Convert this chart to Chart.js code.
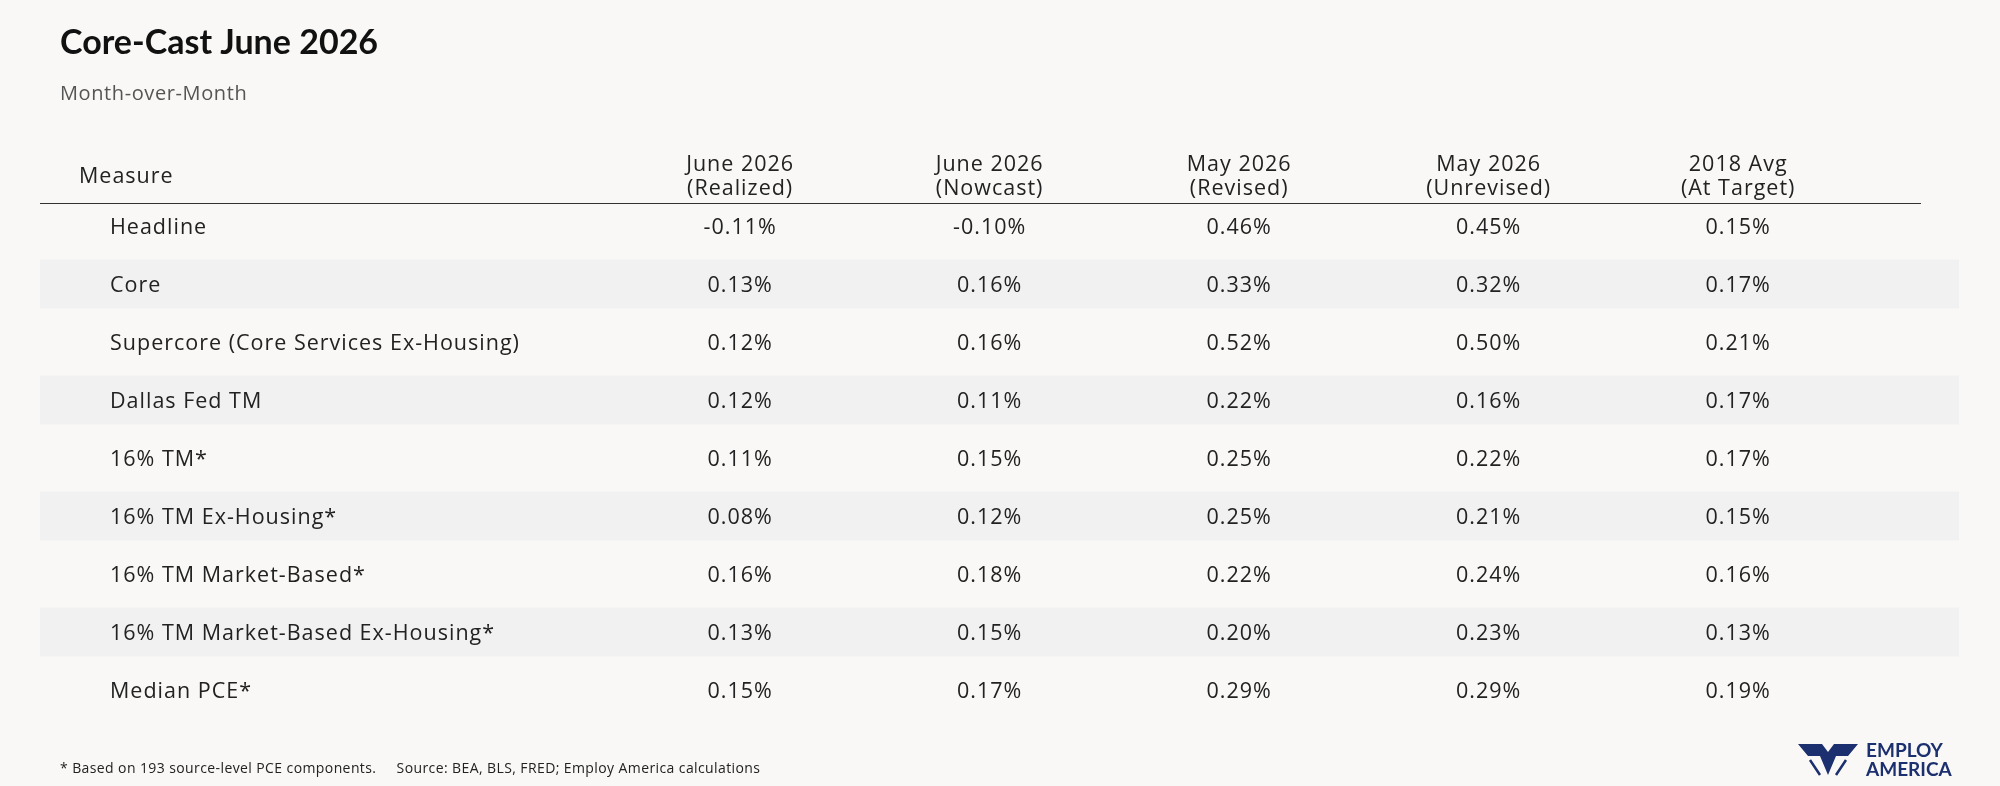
<!DOCTYPE html>
<html><head><meta charset="utf-8">
<script src="https://cdn.jsdelivr.net/npm/chart.js@4"></script>
<style>html,body{margin:0;padding:0;background:#f9f8f6}#c{display:block}</style>
</head><body>
<div style="width:2000px;height:786px"><canvas id="c" width="2000" height="786"></canvas></div>
<script>
const measures = ["Headline","Core","Supercore (Core Services Ex-Housing)","Dallas Fed TM","16% TM*","16% TM Ex-Housing*","16% TM Market-Based*","16% TM Market-Based Ex-Housing*","Median PCE*"];
const columns = [["June 2026","(Realized)"],["June 2026","(Nowcast)"],["May 2026","(Revised)"],["May 2026","(Unrevised)"],["2018 Avg","(At Target)"]];
const juneRealized = [-0.11,0.13,0.12,0.12,0.11,0.08,0.16,0.13,0.15];
const juneNowcast  = [-0.10,0.16,0.16,0.11,0.15,0.12,0.18,0.15,0.17];
const mayRevised   = [0.46,0.33,0.52,0.22,0.25,0.25,0.22,0.20,0.29];
const mayUnrevised = [0.45,0.32,0.50,0.16,0.22,0.21,0.24,0.23,0.29];
const avg2018      = [0.15,0.17,0.21,0.17,0.17,0.15,0.16,0.13,0.19];
const series = [juneRealized,juneNowcast,mayRevised,mayUnrevised,avg2018];
const F = 'Lato, "Open Sans", sans-serif';
const B = '"Open Sans", Lato, sans-serif';

const datasets = series.map((s,ci)=>({data:s.map((v,ri)=>({x:ci+1,y:measures[ri],v})),pointRadius:0}));

const tablePlugin = {
  id:'table',
  beforeDatasetsDraw(chart){
    const ctx=chart.ctx, a=chart.chartArea, y=chart.scales.y;
    const pitch = y.getPixelForValue(1)-y.getPixelForValue(0);
    ctx.save();
    measures.forEach((m,i)=>{ if(i%2===1){ctx.fillStyle='#f1f1f1';const cy=y.getPixelForValue(i);ctx.fillRect(a.left,cy-pitch*0.42,a.right-a.left,pitch*0.84);} });
    ctx.restore();
  },
  afterDatasetsDraw(chart){
    const ctx=chart.ctx, y=chart.scales.y, x=chart.scales.x;
    ctx.save();
    ctx.fillStyle='#111'; ctx.textBaseline='alphabetic';
    ctx.font='bold 34px '+F; ctx.textAlign='left'; ctx.fillText('Core-Cast June 2026',60,54);
    ctx.letterSpacing='0.6px';
    ctx.fillStyle='#555'; ctx.font='20px '+B; ctx.fillText('Month-over-Month',60,100);
    ctx.letterSpacing='1px';
    ctx.fillStyle='#222'; ctx.font='21.5px '+B; ctx.textBaseline='middle';
    ctx.fillText('Measure',79,177);
    columns.forEach((c,i)=>{const px=x.getPixelForValue(i+1);ctx.textAlign='center';ctx.fillText(c[0],px,165);ctx.fillText(c[1],px,189);});
    ctx.strokeStyle='#333';ctx.lineWidth=1.2;ctx.beginPath();ctx.moveTo(40,203.5);ctx.lineTo(1921,203.5);ctx.stroke();
    measures.forEach((m,i)=>{const py=y.getPixelForValue(i)+1.5;ctx.textAlign='left';ctx.fillText(m,110,py);
      series.forEach((s,ci)=>{ctx.textAlign='center';ctx.fillText(s[i].toFixed(2)+'%',x.getPixelForValue(ci+1),py);});});
    ctx.letterSpacing='0.4px';
    ctx.font='14px '+B; ctx.textAlign='left'; ctx.fillStyle='#222';
    ctx.fillText('* Based on 193 source-level PCE components.     Source: BEA, BLS, FRED; Employ America calculations',60,769);
    ctx.letterSpacing='0px';
    ctx.fillStyle='#1c2f6e';
    ctx.beginPath();ctx.moveTo(1798,744);ctx.lineTo(1822,744);ctx.lineTo(1828,752);ctx.lineTo(1834,744);ctx.lineTo(1858,744);ctx.lineTo(1848,756);ctx.lineTo(1836,756);ctx.lineTo(1828,775);ctx.lineTo(1820,756);ctx.lineTo(1808,756);ctx.closePath();ctx.fill();
    ctx.strokeStyle='#1c2f6e';ctx.lineWidth=2.5;ctx.beginPath();ctx.moveTo(1810,760);ctx.lineTo(1820,775);ctx.moveTo(1846,760);ctx.lineTo(1836,775);ctx.stroke();
    ctx.font='bold 19px '+F; ctx.textBaseline='alphabetic';
    ctx.fillText('EMPLOY',1866,757);ctx.fillText('AMERICA',1866,776);
    ctx.restore();
  }
};

new Chart(document.getElementById('c'),{
  type:'scatter',
  data:{datasets},
  options:{responsive:false,animation:false,
    layout:{padding:{top:197,bottom:67,left:40,right:41}},
    plugins:{legend:{display:false},tooltip:{enabled:false}},
    scales:{
      x:{type:'linear',min:-1.806,max:5.885,display:false},
      y:{type:'category',labels:measures,offset:true,display:false}
    }},
  plugins:[tablePlugin]
});
</script></body></html>
